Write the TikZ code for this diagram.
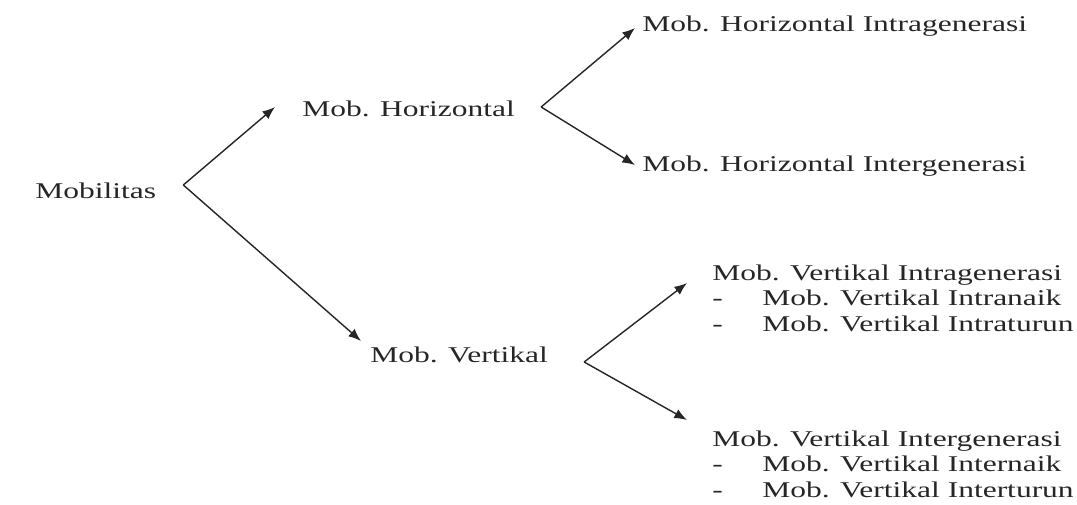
\documentclass[tikz,border=0pt]{standalone}
\usepackage{fontspec}
\setmainfont[FakeStretch=1.4]{Liberation Serif}
\usetikzlibrary{arrows.meta}
\tikzset{
	lbl/.style={anchor=base west,inner sep=0pt,text=black!85,font=\fontsize{16}{18.4}\selectfont},
	arr/.style={line width=1pt,black!85,-{Latex[length=9pt,width=7pt]}}
}
\newcommand{\dashitem}{\makebox[1.25cm][l]{-}}
\begin{document}
\begin{tikzpicture}[x=0.025cm,y=-0.025cm]
			\useasboundingbox (0,0) rectangle (1077,505);
			% tree of labels
			\node[lbl] (mob) at (35,198) {Mobilitas};
			\node[lbl] (hor) at (302,117) {Mob. Horizontal};
			\node[lbl] (horintra) at (642,32) {Mob. Horizontal Intragenerasi};
			\node[lbl] (horinter) at (642,172) {Mob. Horizontal Intergenerasi};
			\node[lbl] (ver) at (370,362) {Mob. Vertikal};
			\node[lbl] (verintra) at (712,280) {\begin{tabular}[t]{@{}l@{}}Mob. Vertikal Intragenerasi\\ \dashitem Mob. Vertikal Intranaik\\ \dashitem Mob. Vertikal Intraturun\end{tabular}};
			\node[lbl] (verinter) at (712,446) {\begin{tabular}[t]{@{}l@{}}Mob. Vertikal Intergenerasi\\ \dashitem Mob. Vertikal Internaik\\ \dashitem Mob. Vertikal Interturun\end{tabular}};
			% forks
			\coordinate (mobfork) at ([shift={(27,-13)}]mob.base east);
			\coordinate (horfork) at ([shift={(26,-10)}]hor.base east);
			\coordinate (verfork) at ([shift={(36,0)}]ver.base east);
			\draw[arr] (mobfork) -- ([shift={(-27,-10)}]hor.base west);
			\draw[arr] (mobfork) -- ([shift={(-9,-21)}]ver.base west);
			\draw[arr] (horfork) -- ([shift={(-7,-4)}]horintra.base west);
			\draw[arr] (horfork) -- ([shift={(-7,-7)}]horinter.base west);
			\draw[arr] (verfork) -- ([shift={(-25,3)}]verintra.base west);
			\draw[arr] (verfork) -- ([shift={(-25,-26)}]verinter.base west);
		\end{tikzpicture}
\end{document}
